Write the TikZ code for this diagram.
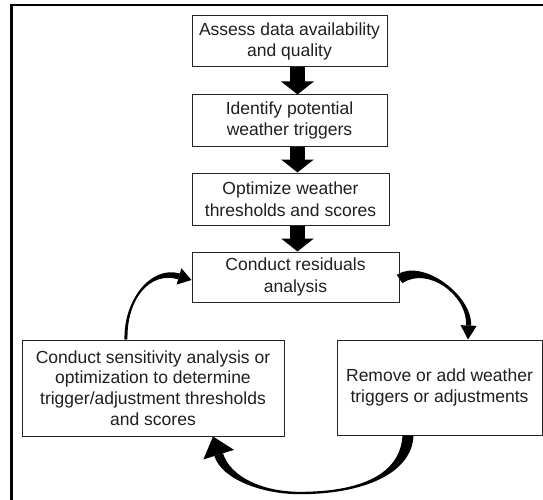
\documentclass[tikz,border=0pt]{standalone}
\usepackage{fontspec}
\setmainfont{Liberation Sans}
\usetikzlibrary{calc,arrows.meta}
% tapered curved segment: #1 start, #2 c1, #3 c2, #4 end, #5 half width start, #6 half width end
\newcommand\taperseg[6]{%
  \fill[arrowfill] ($(#1)!#5!90:(#2)$) .. controls ($(#2)!#5!-90:(#1)$) and ($(#3)!#6!90:(#4)$) .. ($(#4)!#6!-90:(#3)$)
    -- ($(#4)!#6!90:(#3)$) .. controls ($(#3)!#6!-90:(#4)$) and ($(#2)!#5!90:(#1)$) .. ($(#1)!#5!-90:(#2)$) -- cycle;}
% tapered curved arrow: #1 start, #2 c1, #3 c2, #4 tip, #5 hw start, #6 hw end, #7 head length, #8 head half width
\newcommand\taperarrow[8]{%
  \coordinate (tp3) at ($(#4)!#7!(#3)$);
  \taperseg{#1}{#2}{#3}{tp3}{#5}{#6}
  \fill[arrowfill] (#4) -- ($(tp3)!#8!90:(#3)$) -- ($(tp3)!#8!-90:(#3)$) -- cycle;}
\begin{document}
\begin{tikzpicture}[x=1pt,y=-1pt,
  box/.style={draw=black!85, line width=1pt, align=center, inner sep=0pt,
    text=black!88, font=\fontsize{17.5pt}{21.5pt}\selectfont},
  bigbox/.style={box, font=\fontsize{17.5pt}{20.8pt}\selectfont},
  arrowfill/.style={fill=black},
  fatarrow/.style={line width=15pt, draw=black, -{Triangle[width=32pt,length=13pt]}}]
\useasboundingbox (0,0) rectangle (543,500);
\clip (0,0) rectangle (543,500);
% frame
\draw[line width=2.5pt, black] (11.5,540) -- (11.5,5) -- (580,5);
% boxes
\node[box, minimum width=195pt, minimum height=51pt] (B1) at (289.5,41.5) {Assess data availability\\and quality};
\node[box, minimum width=195pt, minimum height=51pt] (B2) at (289.5,120.5) {Identify potential\\weather triggers};
\node[box, minimum width=197pt, minimum height=52pt] (B3) at (290.5,199) {Optimize weather\\thresholds and scores};
\node[box, minimum width=207pt, minimum height=50pt] (B4) at (295.5,277) {Conduct residuals\\analysis};
\node[bigbox, minimum width=262pt, minimum height=96pt] (L) at (153,388) {Conduct sensitivity analysis or\\optimization to determine\\trigger/adjustment thresholds\\and scores};
\node[box, minimum width=205pt, minimum height=95pt] (R) at (439.5,387.5) {Remove or add weather\\triggers or adjustments};
% straight arrows
\coordinate (ax) at (297.5,0);
\draw[fatarrow] (B1.south -| ax) -- (B2.north -| ax);
\draw[fatarrow] (B2.south -| ax) -- (B3.north -| ax);
\draw[fatarrow] (B3.south -| ax) -- (B4.north -| ax);
% arrow L -> B4
\coordinate (a1s) at ($(L.north)+(-27,0)$);
\coordinate (a1c1) at (125,300);
\coordinate (a1c2) at (150,268);
\coordinate (a1t) at ($(B4.west)+(0,3)$);
\taperarrow{a1s}{a1c1}{a1c2}{a1t}{1.5pt}{3pt}{13pt}{8.5pt}
% arrow B4 -> R
\coordinate (a2s) at ($(B4.east)+(0,2)$);
\coordinate (a2c1) at (425,262);
\coordinate (a2c2) at (470,295);
\coordinate (a2t) at ($(R.north)+(28.5,0)$);
\taperarrow{a2s}{a2c1}{a2c2}{a2t}{5pt}{2.5pt}{14pt}{8pt}
% arrow R -> L
\coordinate (a3s) at ($(R.south)+(-31.5,0)$);
\coordinate (a3c1) at (406,475);
\coordinate (a3c2) at (360,493);
\coordinate (a3m) at (300,493);
\coordinate (a3c3) at (262,493);
\coordinate (a3c4) at (226,478);
\coordinate (a3t) at ($(L.south)+(60,0)$);
\taperseg{a3s}{a3c1}{a3c2}{a3m}{5.5pt}{1.2pt}
\taperarrow{a3m}{a3c3}{a3c4}{a3t}{1.2pt}{4.5pt}{19pt}{16pt}
\end{tikzpicture}
\end{document}
